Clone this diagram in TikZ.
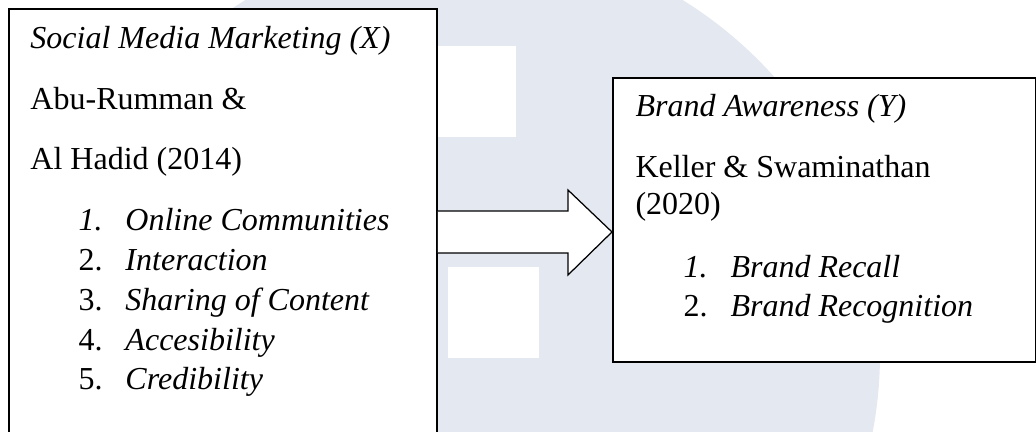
\documentclass[tikz,border=0pt]{standalone}
\usepackage{fontspec}
\setmainfont{Liberation Serif}
\definecolor{wmark}{RGB}{228,232,241}

\begin{document}
\begin{tikzpicture}[x=0.4pt, y=-0.4pt,
	txt/.style={anchor=base west, inner sep=0pt, font=\fontsize{12.8pt}{15pt}\selectfont},
	box/.style={draw, line width=0.7pt, fill=white, anchor=north west, inner sep=0pt},
	fatarrow/.style={draw, line width=0.5pt, fill=white, line join=miter}]
			\useasboundingbox (0,0) rectangle (1036,432);
			\clip (0,0) rectangle (1036,432);
			% faint watermark behind
			\fill[wmark] (464,354) circle[radius=166.4pt];
			\fill[white] (380,46) rectangle (516,137);
			\fill[white] (448,267) rectangle (539,358);
			
			\node (xbox) [box, minimum width=171.2pt, minimum height=180pt] at (8,8) {};
			\node (ybox) [box, minimum width=169.2pt, minimum height=113.6pt] at (612,77) {};
			
			\draw[fatarrow] (xbox.east |- 0,211) -- (568,211) -- (568,190) -- (ybox.west |- 0,232)
				-- (568,275) -- (568,253) -- (xbox.east |- 0,253);
			
			\node (smm) [txt] at (30,49) {\textit{Social Media Marketing (X)}};
			\node (abu) [txt] at (30,110) {Abu-Rumman \&};
			\node (hadid) [txt] at (30,170) {Al Hadid (2014)};
			\node (n1) [txt] at (78,231) {\textit{1.}};
			\node (x1) [txt] at (125,231) {\textit{Online Communities}};
			\node (n2) [txt] at (78,271) {2.};
			\node (x2) [txt] at (125,271) {\textit{Interaction}};
			\node (n3) [txt] at (78,311) {3.};
			\node (x3) [txt] at (125,311) {\textit{Sharing of Content}};
			\node (n4) [txt] at (78,351) {4.};
			\node (x4) [txt] at (125,351) {\textit{Accesibility}};
			\node (n5) [txt] at (78,390) {5.};
			\node (x5) [txt] at (125,390) {\textit{Credibility}};
			
			\node (ba) [txt] at (635,117) {\textit{Brand Awareness (Y)}};
			\node (keller) [txt] at (635,178) {Keller \& Swaminathan};
			\node (year) [txt] at (635,215) {(2020)};
			\node (m1) [txt] at (683,278) {\textit{1.}};
			\node (y1) [txt] at (730,278) {\textit{Brand Recall}};
			\node (m2) [txt] at (683,317) {2.};
			\node (y2) [txt] at (730,317) {\textit{Brand Recognition}};
			\end{tikzpicture}
\end{document}
